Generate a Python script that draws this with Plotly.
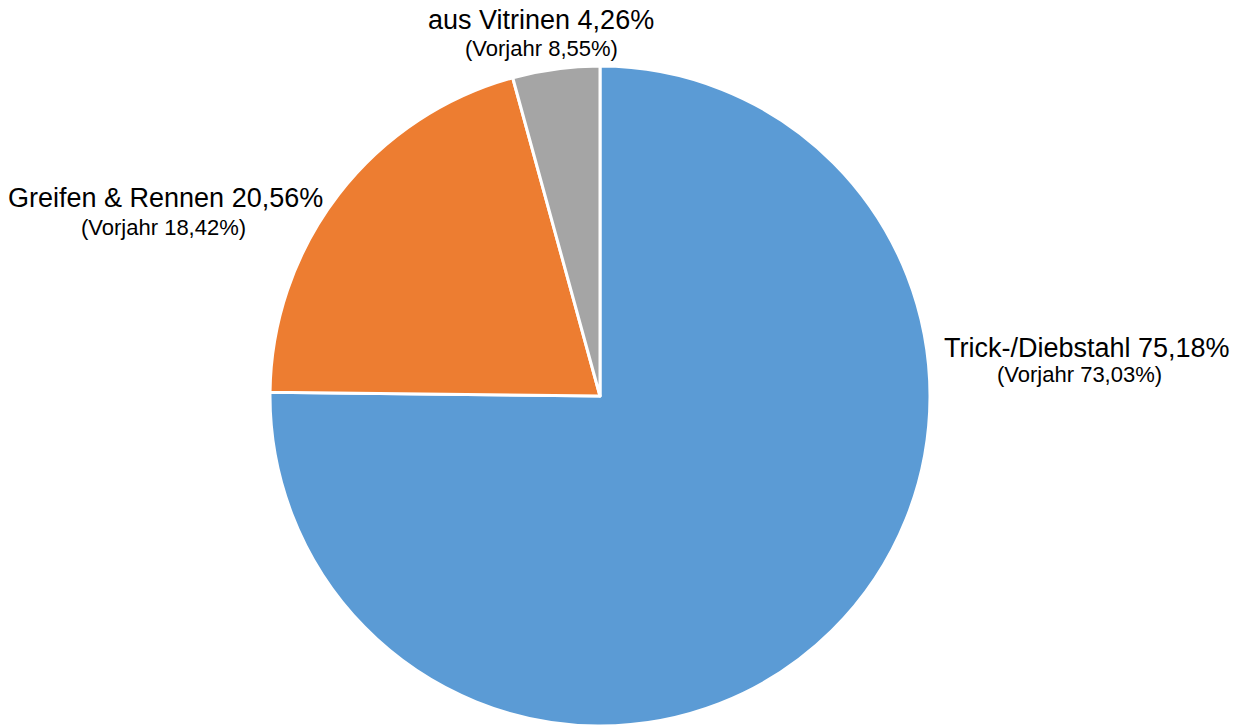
import plotly.graph_objects as go

categories = ["Trick-/Diebstahl", "Greifen & Rennen", "aus Vitrinen"]
values = [75.18, 20.56, 4.26]
prev_year = ["73,03%", "18,42%", "8,55%"]
value_text = ["75,18%", "20,56%", "4,26%"]
colors = ["#5B9BD5", "#ED7D31", "#A5A5A5"]

W, H = 1242, 726

def px(x):
    return x / W

def py(y):
    return 1 - y / H

cx, cy, r = 600, 397, 331

fig = go.Figure(go.Pie(
    labels=categories,
    values=values,
    sort=False,
    direction="clockwise",
    rotation=0,
    textinfo="none",
    hoverinfo="label+percent",
    marker=dict(colors=colors, line=dict(color="white", width=3)),
    domain=dict(x=[px(cx - r), px(cx + r)], y=[max(0, py(cy + r)), py(cy - r)]),
    showlegend=False,
))

# label positions (pixel centres of the text lines)
main_pos = [(1087, 348), (165, 198), (541, 20)]
sub_pos = [(1079, 375), (163, 227), (541, 48)]

font_family = "Liberation Sans, Arial, sans-serif"
for i, cat in enumerate(categories):
    mx, my = main_pos[i]
    sx, sy = sub_pos[i]
    fig.add_annotation(x=px(mx), y=py(my), xref="paper", yref="paper",
                       text=f"{cat} {value_text[i]}", showarrow=False,
                       xanchor="center", yanchor="middle", borderpad=0,
                       font=dict(family=font_family, size=27, color="#000000"))
    fig.add_annotation(x=px(sx), y=py(sy), xref="paper", yref="paper",
                       text=f"(Vorjahr {prev_year[i]})", showarrow=False,
                       xanchor="center", yanchor="middle", borderpad=0,
                       font=dict(family=font_family, size=22, color="#000000"))

fig.update_layout(
    width=W, height=H,
    margin=dict(l=0, r=0, t=0, b=0),
    paper_bgcolor="white",
    plot_bgcolor="white",
)

fig.write_html("out.html", config={"displayModeBar": False},
               post_script="document.body.style.margin='0';")
